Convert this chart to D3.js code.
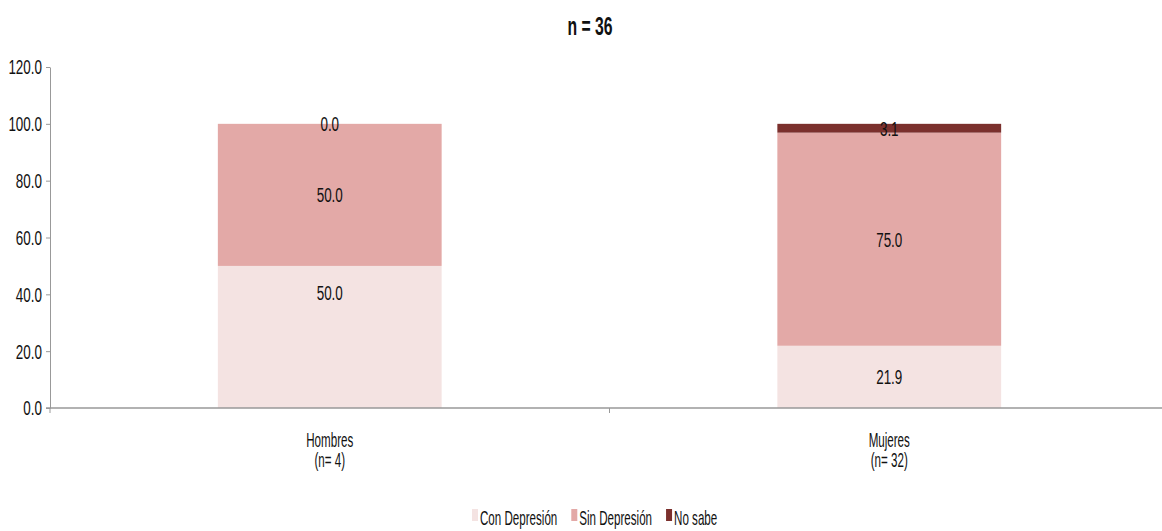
<!DOCTYPE html>
<html><head><meta charset="utf-8">
<script src="https://cdn.jsdelivr.net/npm/d3@7/dist/d3.min.js"></script>
<style>
body{margin:0;background:#fff;}
text{font-family:"Liberation Sans",Arial,sans-serif;fill:#111;}
</style></head>
<body><svg id="c" width="1162" height="531"></svg>
<script>
const categories = ["Hombres|(n= 4)", "Mujeres|(n= 32)"];
const seriesNames = ["Con Depresión", "Sin Depresión", "No sabe"];
const conDepresion = [50.0, 21.9];
const sinDepresion = [50.0, 75.0];
const noSabe = [0.0, 3.1];
const colors = ["#f4e3e2", "#e3a9a7", "#7b302d"];
const yTicks = [0, 20, 40, 60, 80, 100, 120];
const title = "n = 36";
// manual label nudges (px) as in the original, [series][category]
const labelNudge = [[-44, 0], [0, 0], [0, 0]];

const NUM_SX = 0.64, WORD_SX = 0.58, NUM_SIZE = 21, WORD_SIZE = 20;
const svg = d3.select("#c");
const W = 1162;
const x = d3.scaleBand().domain(categories).range([50, 1169]).paddingInner(0).paddingOuter(0);
const y = d3.scaleLinear().domain([0,120]).range([408, 67]);

function txt(parent, px, py, str, o={}){
  return parent.append("text")
    .attr("transform",`translate(${px},${py}) scale(${o.sx||WORD_SX},1)`)
    .attr("text-anchor",o.anchor||"middle")
    .attr("font-size",o.size||WORD_SIZE)
    .attr("font-weight",o.weight||"normal")
    .attr("dy",o.dy||0)
    .text(str);
}

const values = [conDepresion, sinDepresion, noSabe];
const rows = categories.map((c,i)=>{const o={cat:c}; seriesNames.forEach((s,j)=>o[s]=values[j][i]); return o;});
const stack = d3.stack().keys(seriesNames)(rows);

const bw = x.bandwidth()*0.4;
const g = svg.append("g");
stack.forEach((layer,j)=>{
  layer.forEach(d=>{
    const cx = x(d.data.cat)+x.bandwidth()/2;
    g.append("rect").attr("x",cx-bw/2).attr("width",bw)
      .attr("y",y(d[1])).attr("height",y(d[0])-y(d[1])).attr("fill",colors[j]);
  });
});
stack.forEach((layer,j)=>{
  layer.forEach((d,i)=>{
    const cx = x(d.data.cat)+x.bandwidth()/2;
    txt(g, cx, (y(d[0])+y(d[1]))/2 + labelNudge[j][i], (d[1]-d[0]).toFixed(1), {sx:NUM_SX, size:NUM_SIZE, dy:"0.35em"});
  });
});

// y axis
const ya = svg.append("g").attr("transform","translate(50,0)")
  .call(d3.axisLeft(y).tickValues(yTicks).tickFormat(()=>"").tickSize(4).tickSizeOuter(0));
ya.select(".domain").attr("stroke","#999");
ya.selectAll(".tick line").attr("stroke","#999");
yTicks.forEach(t=>txt(svg, 42, y(t), t.toFixed(1), {sx:NUM_SX, size:NUM_SIZE, anchor:"end", dy:"0.35em"}));

// x axis
const xa = svg.append("g").attr("transform",`translate(0,${y(0)})`);
xa.append("line").attr("x1",46).attr("x2",W).attr("stroke","#999").attr("stroke-width",1.5);
const bounds = [x.range()[0]].concat(categories.map(c=>x(c)+x.bandwidth()));
bounds.forEach(b=>xa.append("line").attr("x1",b).attr("x2",b).attr("y1",0).attr("y2",5).attr("stroke","#999"));
categories.forEach(c=>{
  const parts = c.split("|");
  const cx = x(c)+x.bandwidth()/2;
  parts.forEach((p,i)=>txt(xa, cx, 39 + i*20, p));
});

// title
txt(svg, 590, 35, title, {sx:0.63, size:25, weight:"bold"});

// legend
const leg = svg.append("g").attr("transform","translate(0,525)");
let lx = 472;
seriesNames.forEach((s,i)=>{
  leg.append("rect").attr("x",lx).attr("y",-16).attr("width",6).attr("height",12).attr("fill",colors[i]);
  const t = txt(leg, lx+8, 0, s, {anchor:"start"});
  lx += 8 + t.node().getComputedTextLength()*WORD_SX + 14;
});
</script></body></html>
